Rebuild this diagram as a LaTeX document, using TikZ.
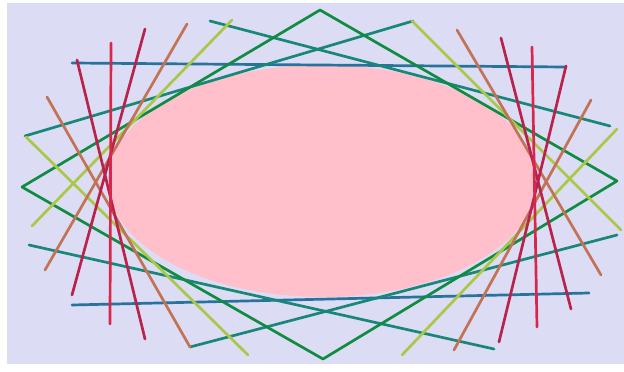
\documentclass[tikz,border=0pt]{standalone}
\definecolor{bgl}{RGB}{220,220,245}
\definecolor{pinkfill}{RGB}{255,192,203}
\definecolor{cz}{RGB}{40,115,155}
\definecolor{cf}{RGB}{25,135,120}
\definecolor{ct}{RGB}{15,140,65}
\definecolor{cff}{RGB}{170,200,70}
\definecolor{cs}{RGB}{195,115,85}
\definecolor{cse}{RGB}{185,35,75}
\definecolor{cn}{RGB}{215,40,75}
\tikzset{tline/.style={line width=2.7pt,line cap=round}}
\begin{document}
\begin{tikzpicture}[x=1pt,y=-1pt]
\useasboundingbox (0,0) rectangle (624,372);
\fill[white] (0,0) rectangle (624,372);
\fill[bgl] (7,3) rectangle (624,364);
\fill[pinkfill] (322.5,181) ellipse [x radius=214.5, y radius=116];
% horizontal
\draw[tline,cz] (72,63) -- (566,67);
\draw[tline,cz] (72,305) -- (589,293);
% 15 degrees
\draw[tline,cf] (25,136) -- (413,21);
\draw[tline,cf] (210,21) -- (610,126);
\draw[tline,cf] (29,245) -- (494,349);
\draw[tline,cf] (190,347) -- (617,235);
% 30 degrees
\draw[tline,ct] (320,10) -- (22,187);
\draw[tline,ct] (320,10) -- (617,181);
\draw[tline,ct] (22,187) -- (323,359);
\draw[tline,ct] (323,359) -- (617,181);
% 45 degrees
\draw[tline,cff] (232,20) -- (32,226);
\draw[tline,cff] (617,129) -- (402,355);
\draw[tline,cff] (26,137) -- (248,355);
\draw[tline,cff] (412,21) -- (621,230);
% 60 degrees
\draw[tline,cs] (187,24) -- (45,270);
\draw[tline,cs] (591,100) -- (454,350);
\draw[tline,cs] (47,97) -- (190,347);
\draw[tline,cs] (457,30) -- (601,275);
% 75 degrees
\draw[tline,cse] (145,29) -- (72,295);
\draw[tline,cse] (566,66) -- (499,342);
\draw[tline,cse] (77,60) -- (145,339);
\draw[tline,cse] (501,38) -- (571,309);
% vertical
\draw[tline,cn] (111,43) -- (110,324);
\draw[tline,cn] (532,47) -- (537,327);
\end{tikzpicture}
\end{document}
